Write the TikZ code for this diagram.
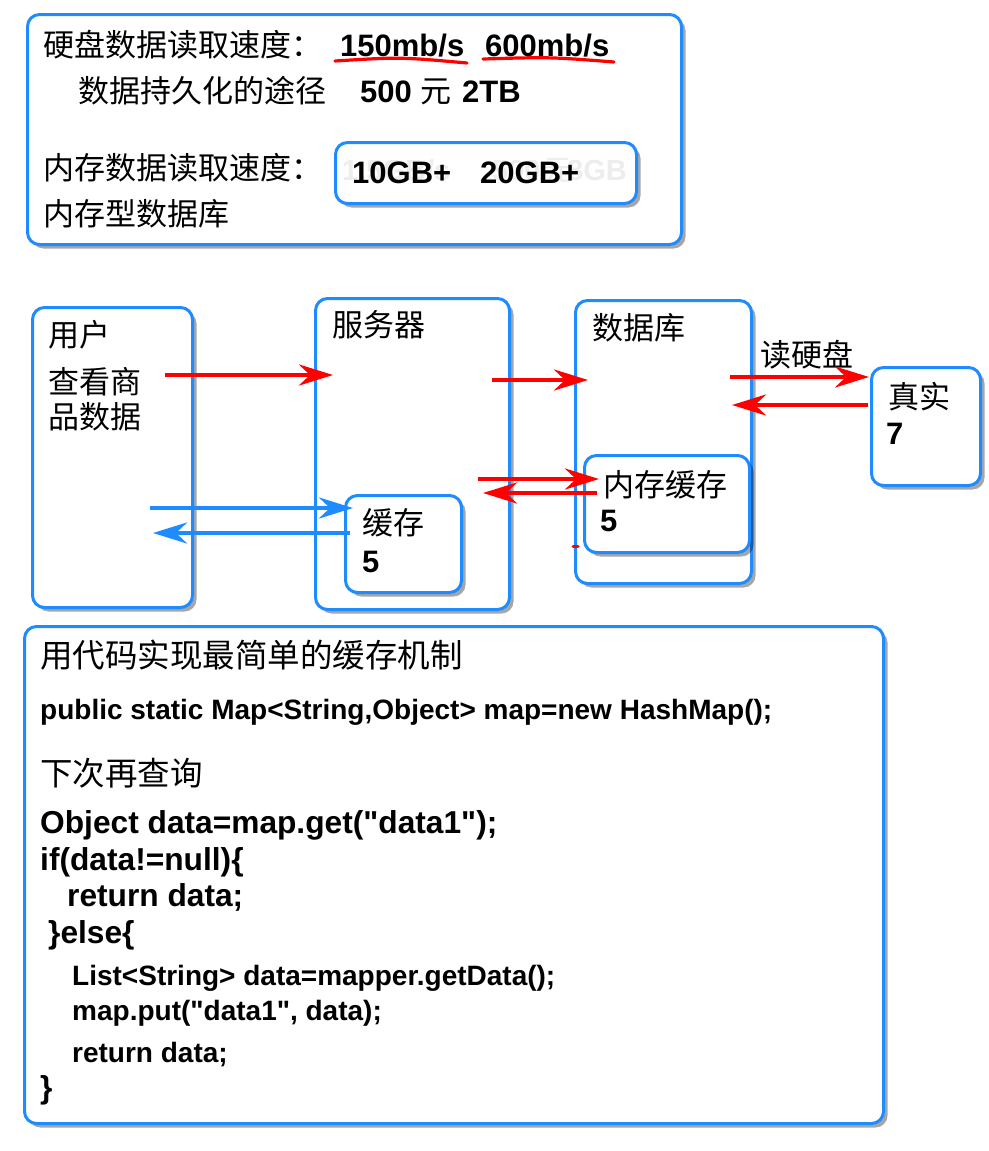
\documentclass[tikz,border=0pt]{standalone}
\usepackage{fontspec}
\setmainfont{Liberation Sans}
\newfontfamily\lat{Liberation Sans}
\newfontfamily\cjk{Noto Sans CJK SC}
\usetikzlibrary{shadows,arrows.meta}
\definecolor{boxblue}{RGB}{30,140,255}
\definecolor{arrred}{RGB}{255,0,0}
\begin{document}
\begin{tikzpicture}[x=1pt,y=-1pt,
  box/.style={draw=boxblue, line width=3pt, fill=white, rounded corners=12pt, inner sep=0pt, anchor=north west,
    drop shadow={shadow xshift=4pt, shadow yshift=-4pt, opacity=0.35, fill=black}},
  cn/.style={font=\cjk\fontsize{31}{36}\selectfont, inner sep=0pt, anchor=base west},
  cnl/.style={font=\cjk\fontsize{32.5}{38}\selectfont, inner sep=0pt, anchor=base west},
  enb/.style={font=\lat\bfseries\fontsize{31}{36}\selectfont, inner sep=0pt, anchor=base west},
  enc/.style={font=\lat\bfseries\fontsize{31.7}{36}\selectfont, inner sep=0pt, anchor=base west},
  codes/.style={font=\lat\bfseries\fontsize{28}{33}\selectfont, inner sep=0pt, anchor=base west},
  faint/.style={text=black!7, font=\lat\bfseries\fontsize{29}{34}\selectfont, inner sep=0pt, anchor=base west},
  faintcn/.style={text=black!7, font=\cjk\fontsize{29}{34}\selectfont, inner sep=0pt, anchor=base west},
  redarr/.style={draw=arrred, line width=4.5pt, -{Stealth[length=34pt,width=21pt,inset=11pt]}},
  bluearr/.style={draw=boxblue, line width=4.5pt, -{Stealth[length=34pt,width=21pt,inset=11pt]}},
  uline/.style={draw=arrred, line width=3.2pt, line cap=round}
]
\useasboundingbox (0,0) rectangle (988,1151);
\fill[white] (0,0) rectangle (988,1151);

% top box
\node[box, minimum width=654pt, minimum height=230pt] (top) at (26,13) {};
\node[cn] (t1) at (43,56) {硬盘数据读取速度：};
\node[enb] (t2) at (340,56) {150mb/s};
\node[enb] (t3) at (485,56) {600mb/s};
\draw[uline] (335,61) .. controls (400,57) .. (467,63);
\draw[uline] (483,59) .. controls (550,57) .. (614,62);
\node[cn] (t4) at (78,102) {数据持久化的途径};
\node[enb] (t5) at (360,102) {500};
\node[cn] (t6) at (420,102) {元};
\node[enb] (t7) at (462,102) {2TB};
\node[cn] (t8) at (43,179) {内存数据读取速度：};
\node[cn] (t9) at (43,225) {内存型数据库};
\node[box, minimum width=301pt, minimum height=61pt] (mem) at (334,141) {};
\node[faint] (f1) at (342,180) {1.5GB/s};
\node[faint] (f2) at (492,180) {500};
\node[faintcn] (f3) at (543,180) {元};
\node[faint] (f4) at (567,180) {8GB};
\node[enb] (t10) at (352,183) {10GB+};
\node[enb] (t11) at (480,183) {20GB+};

% diagram boxes
\node[box, minimum width=160pt, minimum height=300pt] (user) at (31,306) {};
\node[box, minimum width=194pt, minimum height=311pt] (server) at (314,297) {};
\node[box, minimum width=116pt, minimum height=97pt] (cache) at (344,494) {};
\node[box, minimum width=176pt, minimum height=283pt] (db) at (574,299) {};
\node[box, minimum width=165pt, minimum height=97pt] (memc) at (583,454) {};
\node[box, minimum width=109pt, minimum height=118pt] (real) at (870,366) {};

\node[cn] (u1) at (48,346) {用户};
\node[cn] (u2) at (48,393) {查看商};
\node[cn] (u3) at (48,428) {品数据};
\node[cn] (s1) at (332,336) {服务器};
\node[cn] (d1) at (592,339) {数据库};
\node[cn] (r0) at (760,366) {读硬盘};
\node[cn] (r1) at (888,408) {真实};
\node[enb] (r2) at (886,444) {7};
\node[cn] (c1) at (362,534) {缓存};
\node[enb] (c2) at (362,572) {5};
\node[cn] (m1) at (603,496) {内存缓存};
\node[enb] (m2) at (600,531) {5};

% arrow end points
\coordinate (a1s) at (165,375); \coordinate (a1e) at (333,375);
\coordinate (a2s) at (492,380); \coordinate (a2e) at (588,380);
\coordinate (a3s) at (730,377); \coordinate (a3e) at (869,377);
\coordinate (a4s) at (868,405); \coordinate (a4e) at (732,405);
\coordinate (a5s) at (478,479); \coordinate (a5e) at (599,479);
\coordinate (a6s) at (597,493); \coordinate (a6e) at (483,493);
\coordinate (b1s) at (150,508); \coordinate (b1e) at (353,508);
\coordinate (b2s) at (350,533); \coordinate (b2e) at (153,533);
\coordinate (dots) at (573,546); \coordinate (dote) at (578,546);

\draw[redarr] (a1s) -- (a1e);
\draw[redarr] (a2s) -- (a2e);
\draw[redarr] (a3s) -- (a3e);
\draw[redarr] (a4s) -- (a4e);
\draw[redarr] (a5s) -- (a5e);
\draw[redarr] (a6s) -- (a6e);
\draw[bluearr] (b1s) -- (b1e);
\draw[bluearr] (b2s) -- (b2e);
\draw[draw=arrred, line width=3pt, line cap=round] (dots) -- (dote);

% code box
\node[box, minimum width=859pt, minimum height=497pt] (code) at (23,625) {};
\node[cnl] (k1) at (40,667) {用代码实现最简单的缓存机制};
\node[codes] (k2) at (40,719) {public static Map<String,Object> map=new HashMap();};
\node[cnl] (k3) at (40,785) {下次再查询};
\node[enc] (k4) at (40,833) {Object data=map.get("data1");};
\node[enc] (k5) at (40,870) {if(data!=null)\{};
\node[enc] (k6) at (67,906) {return data;};
\node[enc] (k7) at (48,943) {\}else\{};
\node[codes] (k8) at (72,985) {List<String> data=mapper.getData();};
\node[codes] (k9) at (72,1020) {map.put("data1", data);};
\node[codes] (k10) at (72,1062) {return data;};
\node[enc] (k11) at (40,1098) {\}};
\end{tikzpicture}
\end{document}
